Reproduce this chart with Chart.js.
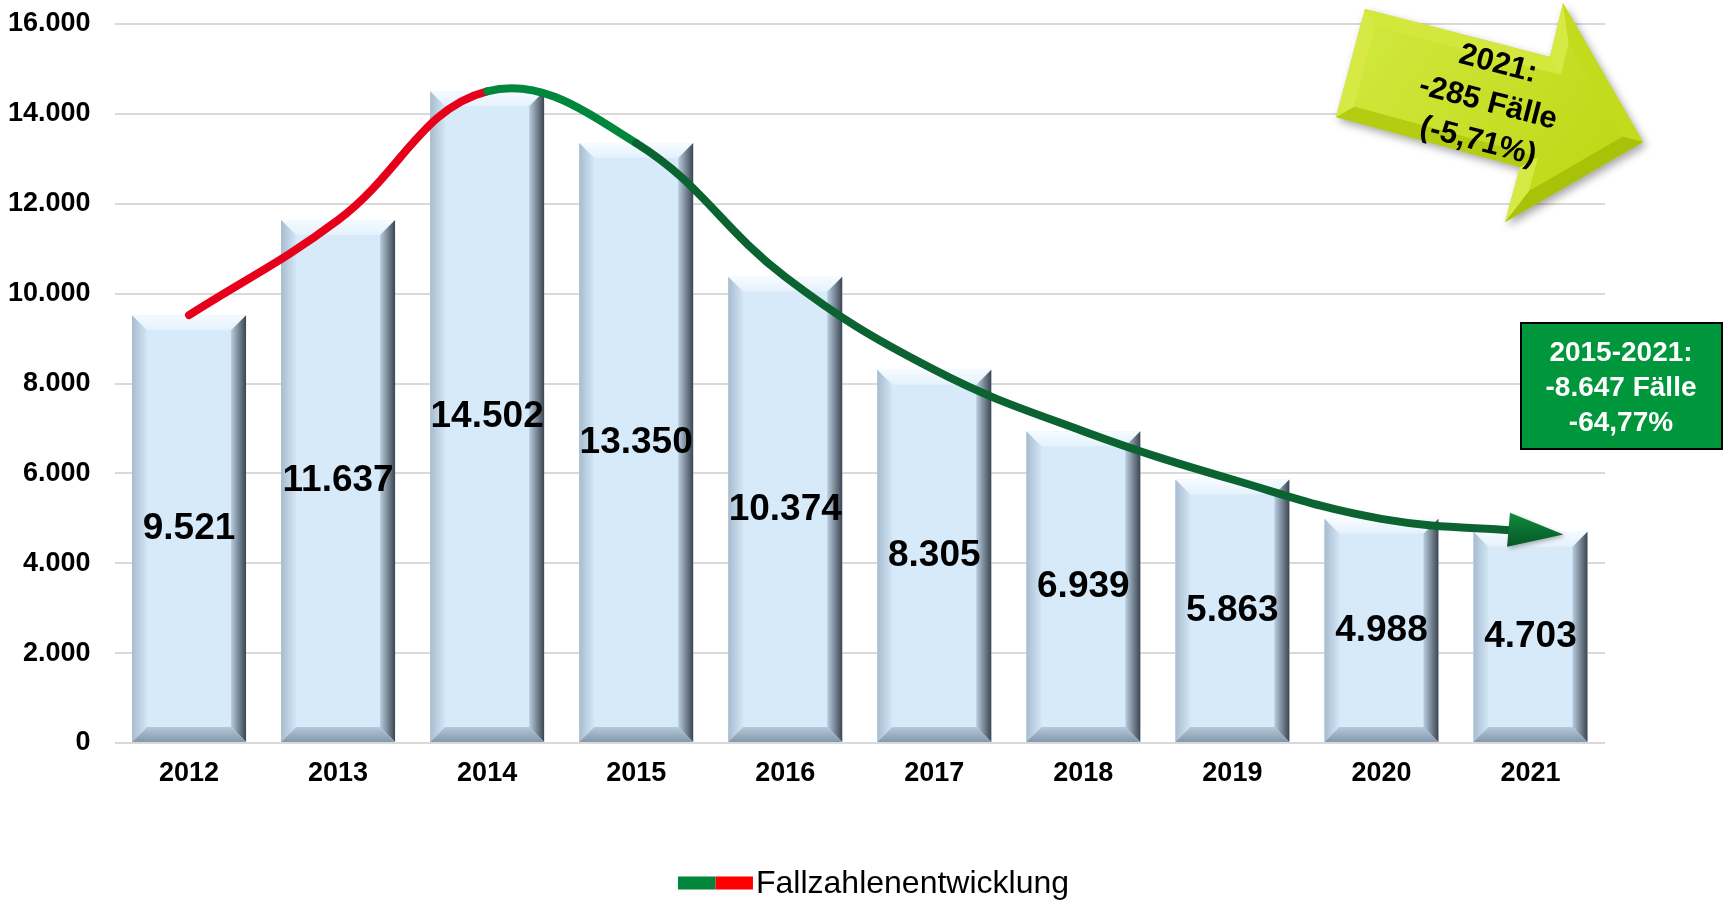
<!DOCTYPE html>
<html lang="de">
<head>
<meta charset="UTF-8">
<title>Fallzahlenentwicklung 2012-2021</title>
<script src="https://cdn.jsdelivr.net/npm/chart.js"></script>
<style>
  html, body { margin: 0; padding: 0; background: #fff; }
  #wrap { width: 1725px; height: 900px; position: relative; }
</style>
</head>
<body>
<div id="wrap"><canvas id="fallChart" width="1725" height="900"></canvas></div>
<script>
// Daten aus der Grafik
const jahre = ['2012', '2013', '2014', '2015', '2016', '2017', '2018', '2019', '2020', '2021'];
const fallzahlen = [9521, 11637, 14502, 13350, 10374, 8305, 6939, 5863, 4988, 4703];
const yTicks = [0, 2000, 4000, 6000, 8000, 10000, 12000, 14000, 16000];
const serienName = 'Fallzahlenentwicklung';
const pfeilText = ['2021:', '-285 Fälle', '(-5,71%)'];
const boxText = ['2015-2021:', '-8.647 Fälle', '-64,77%'];

const FONT = '"Liberation Sans", Arial, sans-serif';
const ROT = '#e6001a';
const GRUEN_HELL = '#00873c';
const GRUEN_DUNKEL = '#0a6330';

function fmt(v) {
    return String(v).replace(/\B(?=(\d{3})+(?!\d))/g, '.');
}

function poly(ctx, pts, fill) {
    ctx.beginPath();
    ctx.moveTo(pts[0][0], pts[0][1]);
    for (let i = 1; i < pts.length; i++) ctx.lineTo(pts[i][0], pts[i][1]);
    ctx.closePath();
    ctx.fillStyle = fill;
    ctx.fill();
}

function grad(ctx, x0, y0, x1, y1, c0, c1) {
    const g = ctx.createLinearGradient(x0, y0, x1, y1);
    g.addColorStop(0, c0);
    g.addColorStop(1, c1);
    return g;
}

// Balken mit Facetten (Bevel) und Werte in der Mitte
const bevelPlugin = {
    id: 'bevel',
    afterDatasetDraw(chart, args) {
        if (args.index !== 0) return;
        const ctx = chart.ctx;
        ctx.save();
        args.meta.data.forEach((bar, i) => {
            const p = bar.getProps(['x', 'y', 'base', 'width'], true);
            const l = p.x - p.width / 2, r = p.x + p.width / 2, t = p.y, b = p.base, d = 15;
            poly(ctx, [[l, t], [r, t], [r - d, t + d], [l + d, t + d]], grad(ctx, 0, t, 0, t + d, '#f6fbff', '#e4f1fc'));
            poly(ctx, [[l, t], [l + d, t + d], [l + d, b - d], [l, b]], grad(ctx, l, 0, l + d, 0, '#a7bccf', '#d2e6f6'));
            poly(ctx, [[r, t], [r, b], [r - d, b - d], [r - d, t + d]], grad(ctx, r - d, 0, r, 0, '#b9cde0', '#3b4550'));
            poly(ctx, [[l, b], [r, b], [r - d, b - d], [l + d, b - d]], grad(ctx, 0, b - d, 0, b, '#b3c8db', '#8598ab'));

            ctx.fillStyle = '#000';
            ctx.font = 'bold 37px ' + FONT;
            ctx.textAlign = 'center';
            ctx.textBaseline = 'middle';
            ctx.fillText(fmt(fallzahlen[i]), p.x, (t + b) / 2);
        });
        ctx.restore();
    }
};

// Pfeilspitze am Ende der Linie, Pfeil- und Box-Anmerkung, Legende
const extrasPlugin = {
    id: 'extras',
    afterDatasetsDraw(chart) {
        const meta = chart.getDatasetMeta(1);
        const pts = meta.data;
        const last = pts[pts.length - 1];
        let dx = last.x - last.cp1x, dy = last.y - last.cp1y;
        const len = Math.hypot(dx, dy) || 1;
        dx /= len; dy /= len;
        const nx = -dy, ny = dx;
        const tip = [last.x + dx * 33, last.y + dy * 33];
        const bx = last.x - dx * 22, by = last.y - dy * 22;
        const ctx = chart.ctx;
        ctx.save();
        ctx.shadowColor = 'rgba(0,0,0,0.3)';
        ctx.shadowBlur = 4;
        ctx.shadowOffsetX = 2;
        ctx.shadowOffsetY = 2;
        poly(ctx, [tip, [bx + nx * 17, by + ny * 17], [bx - nx * 17, by - ny * 17]],
            grad(ctx, bx, by - 17, bx, by + 17, '#138a3e', '#055726'));
        ctx.restore();
    },
    afterDraw(chart) {
        const ctx = chart.ctx;

        // gelber Pfeil
        const P = [[1365, 9], [1550, 57], [1563, 3], [1643, 142], [1505, 222], [1520, 167], [1336, 117]];
        const n = P.length, d = 15;
        const normals = [];
        for (let i = 0; i < n; i++) {
            const a = P[i], c = P[(i + 1) % n];
            const ex = c[0] - a[0], ey = c[1] - a[1], el = Math.hypot(ex, ey);
            normals.push([-ey / el, ex / el]);
        }
        const inner = P.map((pt, i) => {
            const n1 = normals[(i - 1 + n) % n], n2 = normals[i];
            const k = d / (1 + n1[0] * n2[0] + n1[1] * n2[1]);
            return [pt[0] + (n1[0] + n2[0]) * k, pt[1] + (n1[1] + n2[1]) * k];
        });
        ctx.save();
        ctx.shadowColor = 'rgba(0,0,0,0.35)';
        ctx.shadowBlur = 8;
        ctx.shadowOffsetX = 3;
        ctx.shadowOffsetY = 4;
        poly(ctx, P, '#c4dc1e');
        ctx.restore();
        const L = [-0.6, -0.8];
        for (let i = 0; i < n; i++) {
            const j = (i + 1) % n;
            const s = -(normals[i][0] * L[0] + normals[i][1] * L[1]);
            let col;
            if (s > 0) {
                col = 'rgb(' + Math.round(198 + 22 * s) + ',' + Math.round(222 + 14 * s) + ',' + Math.round(30 + 50 * s) + ')';
            } else {
                col = 'rgb(' + Math.round(198 + 30 * s) + ',' + Math.round(222 + 28 * s) + ',' + Math.round(30 + 20 * s) + ')';
            }
            poly(ctx, [P[i], P[j], inner[j], inner[i]], col);
        }
        poly(ctx, inner, grad(ctx, 1400, 30, 1600, 180, '#cfe63a', '#c0d816'));

        ctx.save();
        ctx.translate(1488, 103);
        ctx.rotate(14.5 * Math.PI / 180);
        ctx.fillStyle = '#000';
        ctx.font = 'bold 31px ' + FONT;
        ctx.textAlign = 'center';
        ctx.textBaseline = 'middle';
        pfeilText.forEach((s, i) => ctx.fillText(s, 0, (i - 1) * 40));
        ctx.restore();

        // gruene Box
        ctx.save();
        ctx.fillStyle = '#00963c';
        ctx.fillRect(1521, 323, 201, 126);
        ctx.lineWidth = 2;
        ctx.strokeStyle = '#000';
        ctx.strokeRect(1521, 323, 201, 126);
        ctx.fillStyle = '#fff';
        ctx.font = 'bold 28px ' + FONT;
        ctx.textAlign = 'center';
        ctx.textBaseline = 'middle';
        boxText.forEach((s, i) => ctx.fillText(s, 1621, 353 + i * 35));
        ctx.restore();

        // Legende
        ctx.save();
        ctx.font = '32px ' + FONT;
        const tw = ctx.measureText(serienName).width;
        const total = 75 + 3 + tw;
        const x0 = (chart.width - total) / 2 + 11;
        const ym = 883;
        ctx.fillStyle = '#00873c';
        ctx.fillRect(x0, ym - 6.5, 37.5, 13);
        ctx.fillStyle = '#ff0000';
        ctx.fillRect(x0 + 37.5, ym - 6.5, 37.5, 13);
        ctx.fillStyle = '#000';
        ctx.textAlign = 'left';
        ctx.textBaseline = 'middle';
        ctx.fillText(serienName, x0 + 78, ym + 1);
        ctx.restore();
    }
};

const ctx = document.getElementById('fallChart').getContext('2d');
new Chart(ctx, {
    data: {
        labels: jahre,
        datasets: [{
            type: 'bar',
            label: 'Fälle',
            data: fallzahlen,
            backgroundColor: '#d6eaf9',
            borderWidth: 0,
            barPercentage: 0.765,
            categoryPercentage: 1,
            order: 1
        }, {
            type: 'line',
            label: serienName,
            data: fallzahlen,
            borderWidth: 8,
            borderCapStyle: 'round',
            borderColor: GRUEN_DUNKEL,
            segment: {
                borderColor: c => c.p0DataIndex < 2 ? ROT : (c.p0DataIndex < 3 ? GRUEN_HELL : GRUEN_DUNKEL)
            },
            pointRadius: 0,
            pointHoverRadius: 0,
            tension: 0.4,
            fill: false,
            order: 0
        }]
    },
    options: {
        responsive: false,
        animation: false,
        devicePixelRatio: 1,
        layout: { autoPadding: false, padding: { top: 24, right: 120, bottom: 111, left: 9 } },
        plugins: {
            legend: { display: false },
            tooltip: { enabled: false }
        },
        scales: {
            x: {
                grid: { display: false, drawTicks: false },
                border: { display: false },
                afterFit: s => { s.height = 46; },
                ticks: {
                    color: '#000',
                    padding: 14,
                    font: { family: FONT, size: 27, weight: 'bold' }
                }
            },
            y: {
                min: 0,
                max: 16000,
                afterBuildTicks: s => { s.ticks = yTicks.map(v => ({ value: v })); },
                afterFit: s => { s.width = 105.5; s.paddingTop = 0; s.paddingBottom = 0; },
                grid: { color: '#d9d9d9', lineWidth: 2, drawTicks: false },
                border: { display: false },
                ticks: {
                    color: '#000',
                    padding: 24,
                    font: { family: FONT, size: 27, weight: 'bold' },
                    callback: v => fmt(v)
                }
            }
        }
    },
    plugins: [bevelPlugin, extrasPlugin]
});
</script>
</body>
</html>
